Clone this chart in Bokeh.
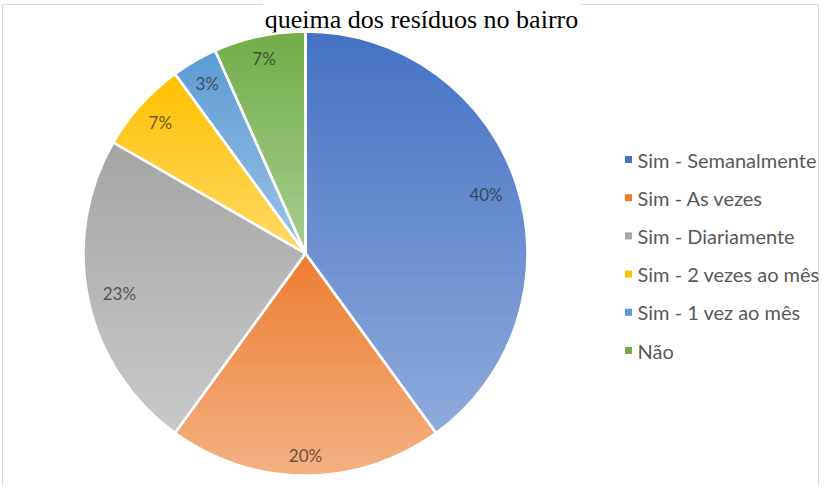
import numpy as np
from bokeh.plotting import figure
from bokeh.models import Range1d
from bokeh.core.properties import value
from bokeh.embed import file_html
from bokeh.resources import INLINE

# ---------------- data ----------------
title_text = "queima dos resíduos no bairro"
categories = ["Sim - Semanalmente", "Sim - As vezes", "Sim - Diariamente",
              "Sim - 2 vezes ao mês", "Sim - 1 vez ao mês", "Não"]
counts = [12, 6, 7, 2, 1, 2]
colors = ["#4472C4", "#ED7D31", "#A5A5A5", "#FFC000", "#5B9BD5", "#70AD47"]

# ---------------- layout ----------------
W, H = 832, 494
CX, CY = 313, H - 261
R = 222

p = figure(width=W, height=H, x_range=Range1d(0, W), y_range=Range1d(0, H),
           output_backend="svg", toolbar_location=None, min_border=0,
           margin=(-8, 0, 0, -8))
p.axis.visible = False
p.grid.visible = False
p.outline_line_color = None
p.background_fill_color = "white"
p.border_fill_color = "white"

# chart border
p.quad(left=[10], right=[826], top=[H - 12], bottom=[-20],
       fill_alpha=0, line_color="#D9D9D9", line_width=1)

# title (kept fully visible, with a white box over the frame line)
p.text(x=[429], y=[H - 27], text=[title_text], text_font=value("Liberation Serif"),
       text_font_size="26px", text_align="center", text_baseline="alphabetic",
       text_color="black", background_fill_color="white", padding=2)

counts_arr = np.array(counts, dtype=float)
frac = counts_arr / counts_arr.sum()
cum = np.concatenate([[0.0], np.cumsum(frac)])
start = np.pi / 2 - 2 * np.pi * cum[:-1]
end = np.pi / 2 - 2 * np.pi * cum[1:]


def hex2rgb(h):
    h = h.lstrip("#")
    return np.array([int(h[i:i + 2], 16) for i in (0, 2, 4)], dtype=float)


def mix(h, t):
    c = hex2rgb(h) * (1 - t) + 255 * t
    return "#%02x%02x%02x" % tuple(int(round(v)) for v in c)


# base wedges (mid tone)
p.wedge(x=CX, y=CY, radius=R, start_angle=list(start), end_angle=list(end),
        direction="clock", fill_color=[mix(c, 0.2) for c in colors], line_color=None)


# vertical gradient overlay per slice
def clip(poly, ylo, yhi):
    def half(pts, keep, c):
        out = []
        n = len(pts)
        for j in range(n):
            a = pts[j]
            b = pts[(j + 1) % n]
            ka, kb = keep(a), keep(b)
            if ka:
                out.append(a)
            if ka != kb:
                t = (c - a[1]) / (b[1] - a[1])
                out.append((a[0] + t * (b[0] - a[0]), c))
        return out
    pts = half(poly, lambda q: q[1] >= ylo, ylo)
    if not pts:
        return pts
    return half(pts, lambda q: q[1] <= yhi, yhi)


xs, ys, fc = [], [], []
NB = 48
for i in range(len(counts)):
    angs = np.linspace(start[i], end[i], 120)
    poly = [(CX, CY)] + [(CX + R * np.cos(a), CY + R * np.sin(a)) for a in angs]
    ymin = min(q[1] for q in poly)
    ymax = max(q[1] for q in poly)
    hgt = (ymax - ymin) / NB
    for k in range(NB):
        y1 = ymax - k * hgt
        y0 = y1 - hgt
        part = clip(poly, y0, y1)
        if len(part) < 3:
            continue
        xs.append([q[0] for q in part])
        ys.append([q[1] for q in part])
        fc.append(mix(colors[i], 0.4 * (k + 0.5) / NB))
p.patches(xs, ys, fill_color=fc, line_color=fc, line_width=0.8)

# white separators
p.wedge(x=CX, y=CY, radius=R, start_angle=list(start), end_angle=list(end),
        direction="clock", fill_alpha=0, line_color="white", line_width=2.5)

# percentage labels (inside, near the rim)
labels = ["%d%%" % round(f * 100) for f in frac]
mid = 2 * np.pi * (cum[:-1] + frac / 2)
lx, ly = [], []
for lab, th in zip(labels, mid):
    hw = len(lab) * 6.4
    hh = 9
    r = 0.95 * R - (hw * abs(np.sin(th)) + hh * abs(np.cos(th)))
    lx.append(CX + r * np.sin(th))
    ly.append(CY + r * np.cos(th))
p.text(x=lx, y=ly, text=labels, text_font=value("Lato"), text_font_size="17px",
       text_align="center", text_baseline="middle", text_color="#262626", text_alpha=0.7)

# legend
n = len(categories)
leg_y = [CY - 1.5 - (i - (n - 1) / 2) * 38.2 for i in range(n)]
p.scatter(x=[636] * n, y=leg_y, marker="square", size=7, fill_color=colors, line_color=None)
p.text(x=[645] * n, y=leg_y, text=categories, text_font=value("Lato"),
       text_font_size="20px", text_align="left", text_baseline="middle",
       text_color="#595959")

open("out.html", "w").write(file_html(p, INLINE))
